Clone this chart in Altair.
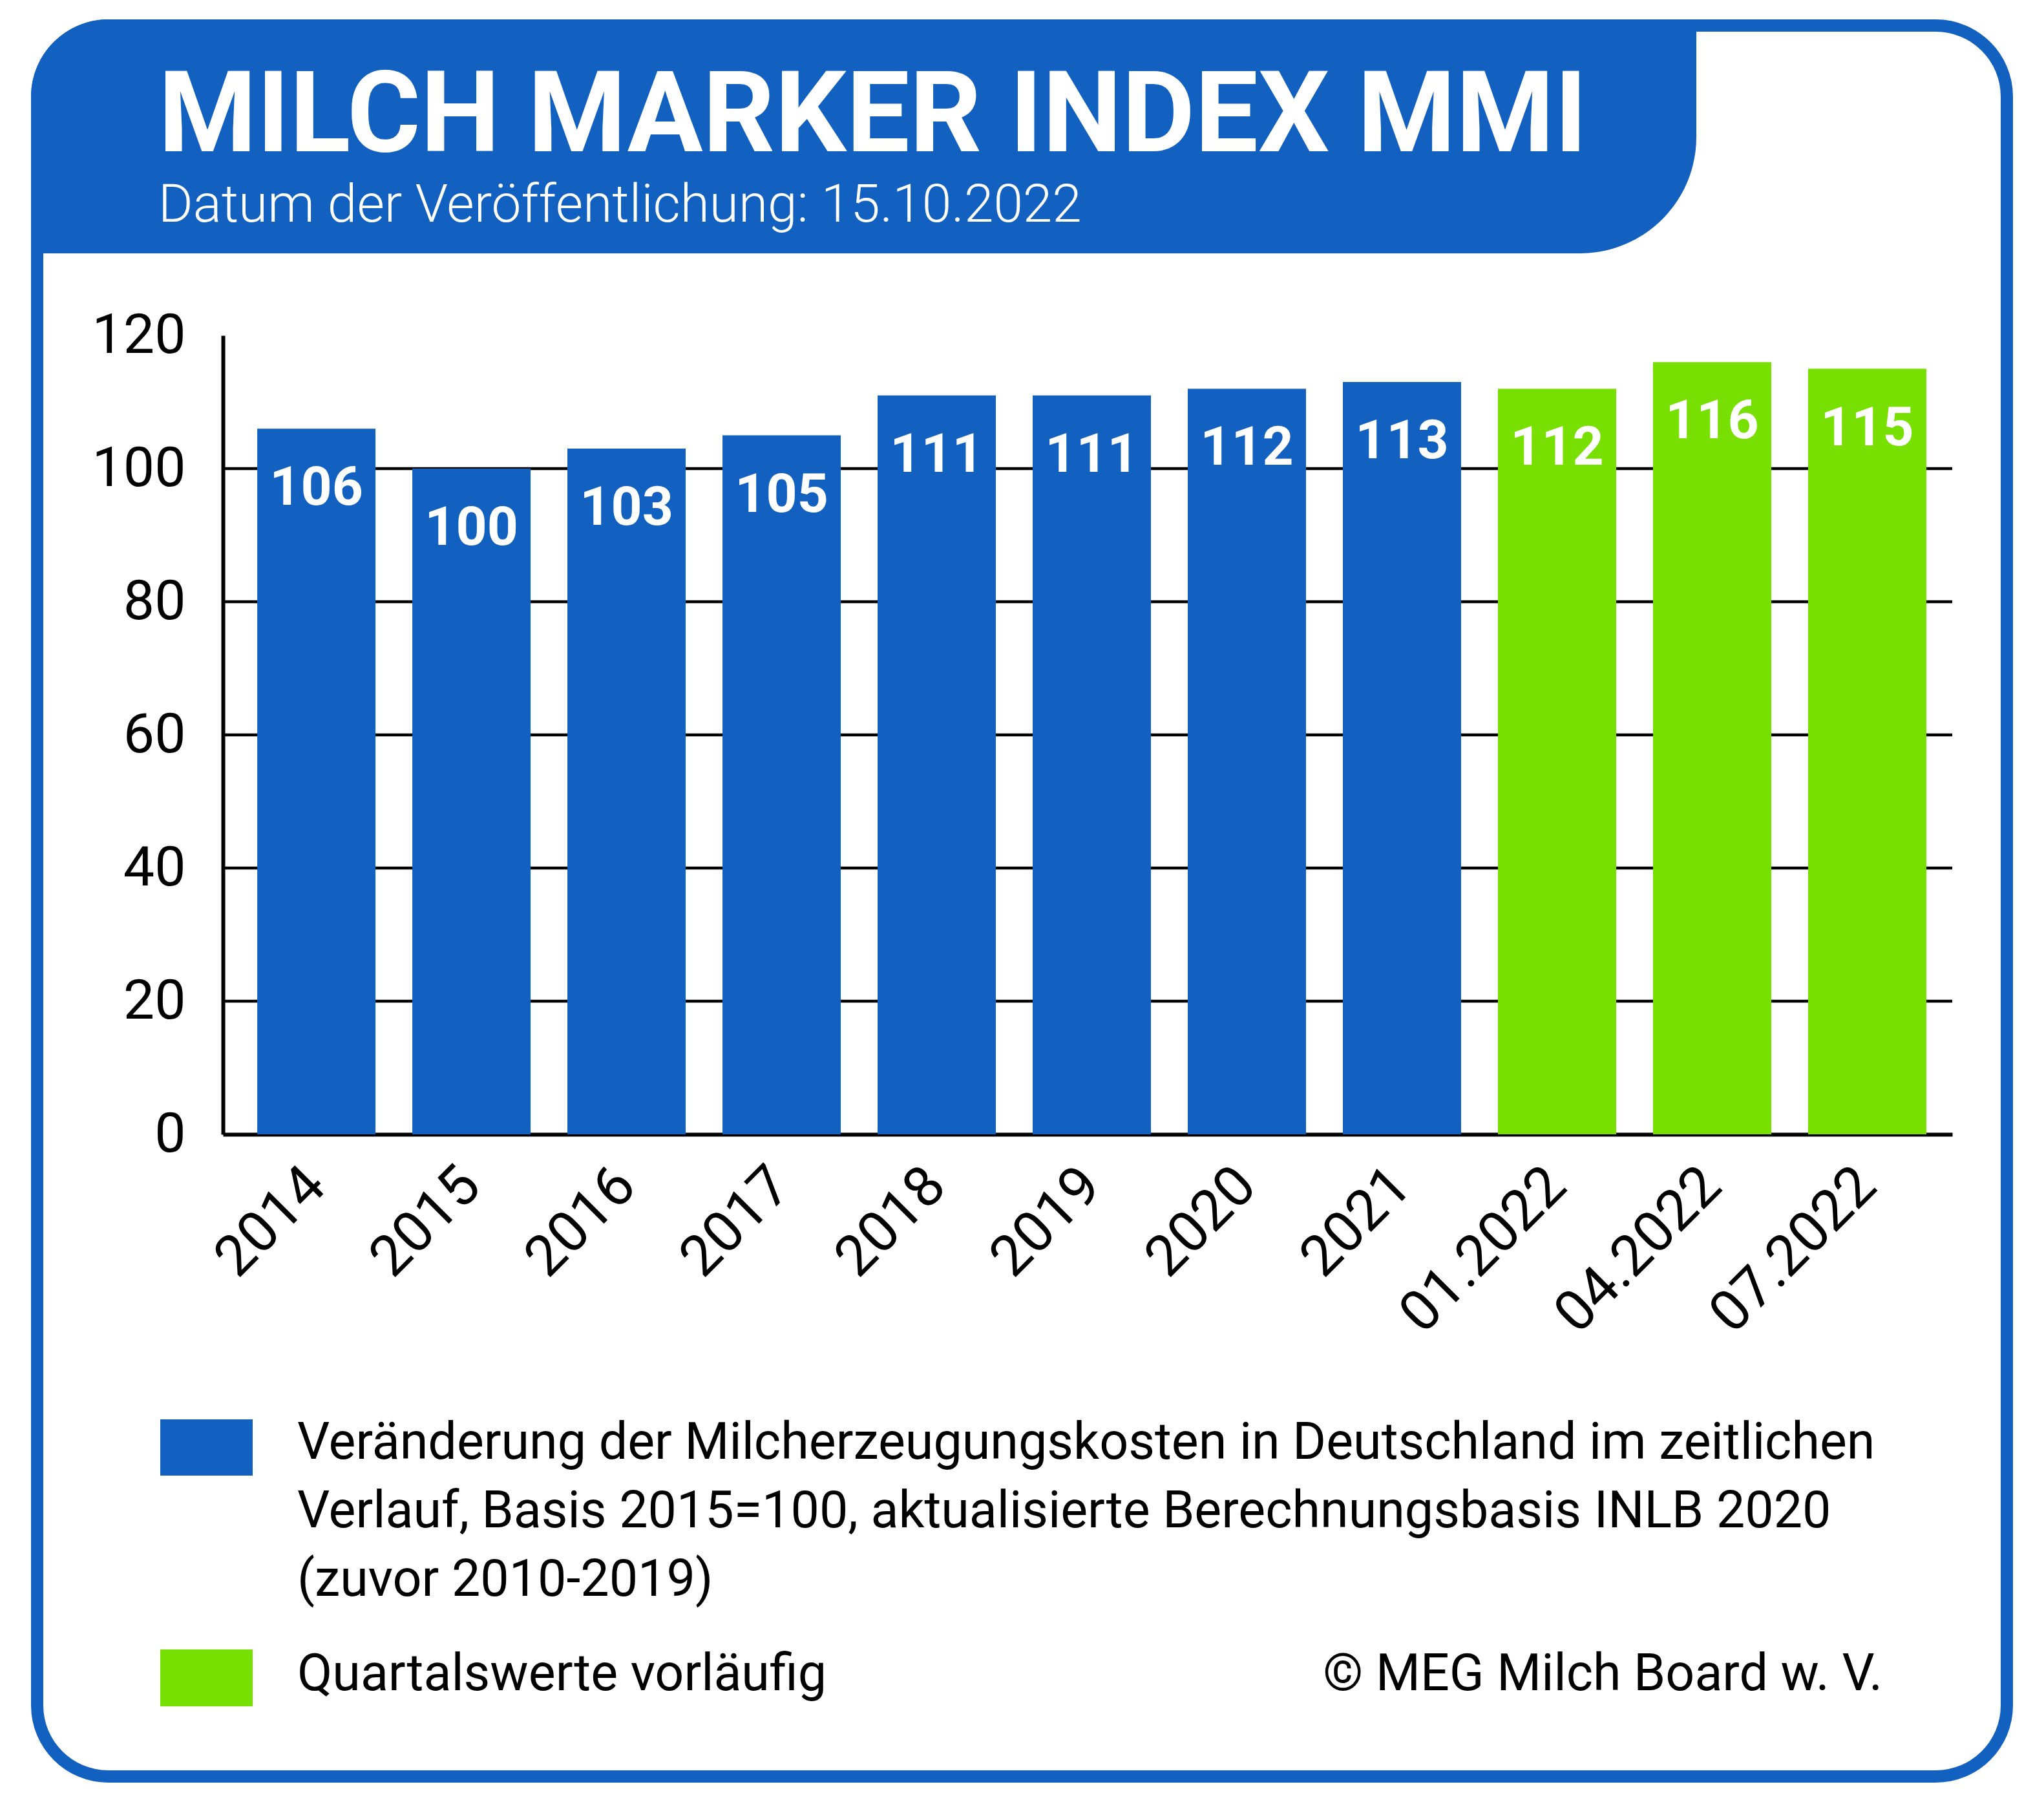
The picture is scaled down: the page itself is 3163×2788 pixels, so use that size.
import altair as alt
import pandas as pd

# ---------------- data ----------------
categories = ["2014", "2015", "2016", "2017", "2018", "2019", "2020", "2021",
              "01.2022", "04.2022", "07.2022"]
values = [106, 100, 103, 105, 111, 111, 112, 113, 112, 116, 115]
provisional = [False, False, False, False, False, False, False, False, True, True, True]
y_ticks = [0, 20, 40, 60, 80, 100, 120]
grid_values = [20, 40, 60, 80, 100]

title_text = "MILCH MARKER INDEX MMI"
subtitle_text = "Datum der Veröffentlichung: 15.10.2022"
legend_lines_blue = [
    "Veränderung der Milcherzeugungskosten in Deutschland im zeitlichen",
    "Verlauf, Basis 2015=100, aktualisierte Berechnungsbasis INLB 2020",
    "(zuvor 2010-2019)",
]
legend_label_green = "Quartalswerte vorläufig"
copyright_text = "© MEG Milch Board w. V."

BLUE = "#1261c0"
GREEN = "#78e000"
FONT = "Roboto"

W = 2676
H = 1236

df = pd.DataFrame({"cat": categories, "val": values, "prov": provisional})
grid_df = pd.DataFrame({"val": grid_values})
one = pd.DataFrame({"a": [1]})

xscale = alt.Scale(domain=categories, paddingInner=0.2375, paddingOuter=0.194, align=0.57)
yscale = alt.Scale(domain=[0, 120], nice=False)

xaxis = alt.Axis(
    title="", labelAngle=-45, labelAlign="right", labelBaseline="middle",
    labelFontSize=88, labelFont=FONT, labelColor="black", labelPadding=66,
    labelLimit=0, ticks=False, grid=False, domainColor="black", domainWidth=6,
    labelOverlap=False,
)
yaxis = alt.Axis(
    title="", values=y_ticks, labelFontSize=86, labelFont=FONT, labelColor="black",
    labelPadding=58, ticks=False, grid=False, domainColor="black", domainWidth=6,
)

X = alt.X("cat:N", scale=xscale, sort=categories, axis=xaxis)
Y = alt.Y("val:Q", scale=yscale, axis=yaxis)

# ---------------- frame ----------------
header = alt.Chart(one).mark_rect(
    color=BLUE, cornerRadiusTopLeft=120, cornerRadiusBottomRight=180
).encode(x=alt.value(-297), x2=alt.value(2280), y=alt.value(-489), y2=alt.value(-127))

border = alt.Chart(one).mark_rect(
    fill="white", fillOpacity=0, stroke=BLUE, strokeWidth=19, cornerRadius=110
).encode(x=alt.value(-287.5), x2=alt.value(2760.5), y=alt.value(-479.5), y2=alt.value(2229.5))

title = alt.Chart(one).mark_text(
    text=title_text, font=FONT, fontWeight="bold", fontSize=174, color="white",
    align="left", baseline="alphabetic"
).encode(x=alt.value(-100), y=alt.value(-285))

subtitle = alt.Chart(one).mark_text(
    text=subtitle_text, font=FONT, fontWeight=300, fontSize=82, color="white",
    align="left", baseline="alphabetic"
).encode(x=alt.value(-100), y=alt.value(-176))

# ---------------- chart ----------------
grid = alt.Chart(grid_df).mark_rule(color="black", strokeWidth=4.5).encode(
    y=Y, x=alt.value(0), x2=alt.value(W)
)

bars = alt.Chart(df).mark_bar().encode(
    x=X, y=Y,
    color=alt.condition("datum.prov", alt.value(GREEN), alt.value(BLUE)),
)

labels = alt.Chart(df).mark_text(
    font=FONT, fontWeight="bold", fontSize=84, color="white",
    align="center", baseline="alphabetic", dy=118
).encode(x=X, y=Y, text="val:Q")

# ---------------- legend ----------------
leg_blue = alt.Chart(one).mark_rect(color=BLUE).encode(
    x=alt.value(-97), x2=alt.value(46), y=alt.value(1677), y2=alt.value(1764)
)
leg_green = alt.Chart(one).mark_rect(color=GREEN).encode(
    x=alt.value(-97), x2=alt.value(46), y=alt.value(2033), y2=alt.value(2121)
)
leg_blue_text = alt.Chart(one).mark_text(
    text=legend_lines_blue, font=FONT, fontSize=79, color="black",
    align="left", baseline="alphabetic", lineHeight=106
).encode(x=alt.value(115), y=alt.value(1738))
leg_green_text = alt.Chart(one).mark_text(
    text=legend_label_green, font=FONT, fontSize=79, color="black",
    align="left", baseline="alphabetic"
).encode(x=alt.value(115), y=alt.value(2096))
copyright = alt.Chart(one).mark_text(
    text=copyright_text, font=FONT, fontSize=79, color="black",
    align="right", baseline="alphabetic"
).encode(x=alt.value(2568), y=alt.value(2096))

chart = alt.layer(
    header, border, title, subtitle, grid, bars, labels,
    leg_blue, leg_green, leg_blue_text, leg_green_text, copyright
).properties(
    width=W, height=H,
    autosize=alt.AutoSizeParams(type="none"),
    padding={"left": 337, "top": 511, "right": 134, "bottom": 1015},
    background="white",
).configure_view(strokeWidth=0)

chart.save("out.html", embed_options={"renderer": "svg", "actions": False})
